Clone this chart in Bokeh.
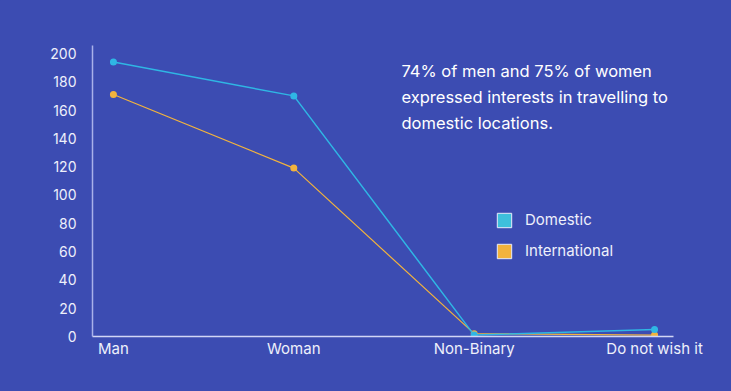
from bokeh.plotting import figure
from bokeh.models import (Range1d, FixedTicker, ColumnDataSource, Label,
                          Legend, LegendItem)
from bokeh.embed import file_html
from bokeh.resources import INLINE

# ---- data ----
categories = ["Man", "Woman", "Non-Binary", "Do not wish it"]
domestic = [194, 170, 1, 5]
international = [171, 119, 2, 1]
y_ticks = [0, 20, 40, 60, 80, 100, 120, 140, 160, 180, 200]
note_lines = ["74% of men and 75% of women",
              "expressed interests in travelling to",
              "domestic locations."]

BG = "#3c4cb2"
DOM = "#2fb6e4"
INT = "#f2b33d"
TXT = "#eef0fb"
FONT = "Inter"

xs = list(range(len(categories)))

p = figure(width=731, height=391, output_backend="svg", toolbar_location=None,
           x_range=Range1d(-0.116, 3.105), y_range=Range1d(0, 205.6),
           min_border_left=92, min_border_right=58, min_border_top=45,
           min_border_bottom=55)
p.background_fill_color = BG
p.border_fill_color = BG
p.outline_line_color = None
p.grid.visible = False

# axes
p.yaxis.ticker = FixedTicker(ticks=y_ticks)
p.yaxis.major_tick_line_color = None
p.yaxis.minor_tick_line_color = None
p.yaxis.axis_line_color = "#a9b1ea"
p.yaxis.axis_line_width = 1.5
p.yaxis.major_label_text_color = TXT
p.yaxis.major_label_text_font = FONT
p.yaxis.major_label_text_font_size = "14px"
p.yaxis.major_label_standoff = 10

p.xaxis.ticker = FixedTicker(ticks=xs)
p.xaxis.major_label_overrides = {i: c for i, c in zip(xs, categories)}
p.xaxis.major_tick_line_color = None
p.xaxis.minor_tick_line_color = None
p.xaxis.axis_line_color = "#d2d6f5"
p.xaxis.axis_line_width = 1.5
p.xaxis.major_label_text_color = TXT
p.xaxis.major_label_text_font = FONT
p.xaxis.major_label_text_font_size = "15px"
p.xaxis.major_label_standoff = -4

# lines
src = ColumnDataSource(dict(x=xs, dom=domestic, intl=international))
p.line("x", "intl", source=src, line_color=INT, line_width=1.2)
p.scatter("x", "intl", source=src, size=7, fill_color=INT, line_color=None)
p.line("x", "dom", source=src, line_color=DOM, line_width=1.5)
p.scatter("x", "dom", source=src, size=7, fill_color=DOM, line_color=None)

# legend squares (renderers hold no visible mark)
nan = float("nan")
dummy = ColumnDataSource(dict(left=[nan], right=[nan], top=[nan], bottom=[nan]))
r_dom = p.quad(left="left", right="right", top="top", bottom="bottom", source=dummy,
               fill_color="#3ec0dc", line_color="#e8ecfa", line_width=1)
r_int = p.quad(left="left", right="right", top="top", bottom="bottom", source=dummy,
               fill_color=INT, line_color="#e8ecfa", line_width=1)
legend = Legend(items=[LegendItem(label="Domestic", renderers=[r_dom]),
                       LegendItem(label="International", renderers=[r_int])],
                location=(403, 76), padding=0, margin=0, spacing=12,
                glyph_width=18, glyph_height=18, label_height=18,
                label_standoff=12, border_line_color=None,
                background_fill_alpha=0,
                label_text_color=TXT, label_text_font=FONT,
                label_text_font_size="15px")
p.add_layout(legend)

# annotation text
for i, line in enumerate(note_lines):
    p.add_layout(Label(x=1.597, y=187.4 - i * 18.4, text=line, text_color="#ffffff",
                       text_font=FONT, text_font_size="16.5px",
                       text_baseline="alphabetic", text_align="left"))

html = file_html(p, INLINE)
html = html.replace("</head>", "<style>html,body{background:%s;}</style></head>" % BG, 1)
open("out.html", "w").write(html)
